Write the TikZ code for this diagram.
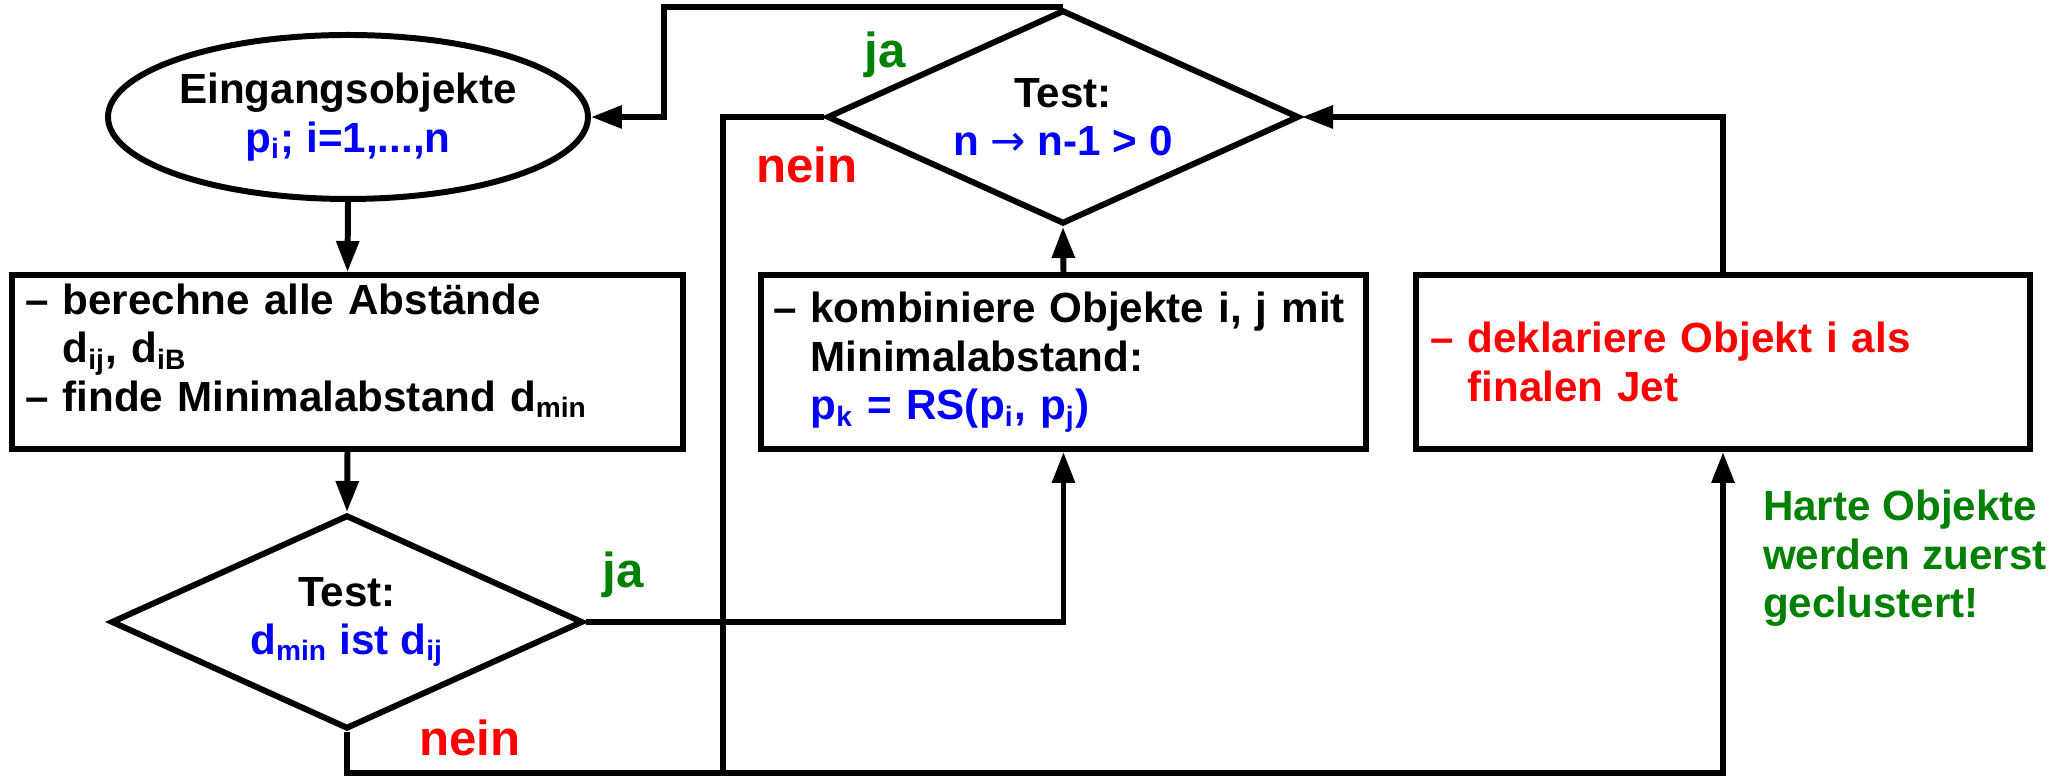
\documentclass[tikz,border=0pt]{standalone}
\definecolor{jagreen}{HTML}{008000}
\definecolor{neinred}{HTML}{FF0000}
\definecolor{formblue}{HTML}{0000FF}
\usepackage{fontspec}
\setmainfont{Liberation Sans}
\newfontfamily\arrowfont{DejaVu Sans}
\usetikzlibrary{shapes.geometric,arrows.meta,positioning}
\newcommand{\idx}[1]{\textsubscript{#1}}
\newcommand{\ind}{\phantom{– }}

\begin{document}
\begin{tikzpicture}[line width=1.7pt,
  font=\fontsize{12}{13.8}\selectfont\bfseries,
  arr/.style={-{Triangle[length=3.1mm,width=2.2mm]}},
  stepbox/.style={draw,rectangle,minimum height=1.74cm,inner ysep=2pt,align=left},
  testbox/.style={draw,diamond,aspect=2.2,align=center,inner sep=0pt,minimum width=4.72cm,minimum height=2.14cm},
  answer/.style={font=\fontsize{14}{16}\selectfont\bfseries}]
  \useasboundingbox (0,0) rectangle (20.69,7.77);
  % left column
  \node[draw,ellipse,inner sep=0pt,minimum width=4.8cm,minimum height=1.64cm,align=center] (eing) at (3.48,6.6)
    {Eingangsobjekte\\\textcolor{formblue}{p\idx{i}; i=1,...,n}};
  \node[stepbox,text width=6.45cm,inner xsep=0.13cm] (berech) at (3.475,4.15)
    {– berechne alle Abstände\\\ind d\idx{ij}, d\idx{iB}\\– finde Minimalabstand d\idx{min}\\[-5.6pt]\mbox{}};
  \node[testbox] (testd) at (3.47,1.55) {Test:\\\textcolor{formblue}{d\idx{min} ist d\idx{ij}}};
  % middle column
  \node[testbox] (testn) at (10.63,6.6) {Test:\\\textcolor{formblue}{n {\arrowfont\mdseries →} n-1 > 0}};
  \node[stepbox,text width=5.81cm,inner xsep=0.12cm] (kombi) at (10.635,4.15)
    {– kombiniere Objekte i, j mit\\\ind Minimalabstand:\\\ind\textcolor{formblue}{p\idx{k} = RS(p\idx{i}, p\idx{j})}};
  % right column
  \node[stepbox,text width=5.86cm,inner xsep=0.14cm,text=neinred] (dekl) at (17.23,4.15)
    {– deklariere Objekt i als\\\ind finalen Jet};
  \node[text=jagreen,align=left,anchor=north west,inner sep=0pt] (harte) at (17.6,2.9)
    {Harte Objekte\\werden zuerst\\geclustert!};
  % answers
  \node[answer,text=jagreen] (jan) at (8.85,7.22) {ja};
  \node[answer,text=neinred] (neinn) at (8.07,6.12) {nein};
  \node[answer,text=jagreen] (jad) at (6.23,2.02) {ja};
  \node[answer,text=neinred] (neind) at (4.7,0.39) {nein};
  % connectors
  \coordinate (lp) at (6.64,7.65);
  \coordinate (lb) at (7.23,0.04);
  \draw[arr] (eing.south) -- (berech.north);
  \draw[arr] (berech.south) -- (testd.north);
  \draw[arr] (testd.east) -| (kombi.south);
  \draw[arr] (kombi.north) -- (testn.south);
  \draw[arr] (testn.north) -- (testn.north -| lp) |- (eing.east);
  \draw (testn.west) -| (lb);
  \draw[arr] (testd.south) |- (lb) -| (dekl.south);
  \draw[arr] (dekl.north) |- (testn.east);
\end{tikzpicture}
\end{document}
